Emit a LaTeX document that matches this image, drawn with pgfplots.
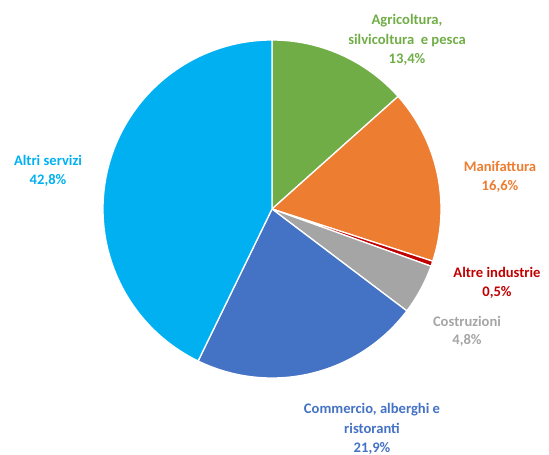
\documentclass[border=0pt]{standalone}
\usepackage{fontspec}
\setmainfont{Carlito}
\usepackage{pgfplots}
\pgfplotsset{compat=1.18}

\definecolor{cAgr}{HTML}{70AD47}
\definecolor{cMan}{HTML}{ED7D31}
\definecolor{cAlt}{HTML}{C00000}
\definecolor{cCos}{HTML}{A5A5A5}
\definecolor{cCom}{HTML}{4472C4}
\definecolor{cSer}{HTML}{00B0F0}

\tikzset{lbl/.style={align=center, inner sep=0pt,
    font=\bfseries\fontsize{14.6}{19.3}\selectfont}}

% pie centre and radius in axis units
\def\cx{272}\def\cy{246}\def\rr{169}

% \slice{cumulative share before}{share}{colour}
\newcommand\slice[3]{%
  \pgfmathsetmacro\angA{90-3.6*#1}%
  \pgfmathsetmacro\angB{90-3.6*(#1+#2)}%
  \edef\doslice{\noexpand\addplot[fill=#3, draw=white, line width=1.3pt,
      domain=\angB:\angA, samples=90, line join=round]
    ({\cx+\rr*cos(x)},{\cy+\rr*sin(x)}) -- (axis cs:\cx,\cy) -- cycle;}%
  \doslice
}

\begin{document}
\begin{tikzpicture}
\begin{axis}[
  width=549pt, height=455pt, scale only axis,
  xmin=0, xmax=549, ymin=0, ymax=455,
  hide axis, clip=false,
]
\path (axis cs:0,0) rectangle (axis cs:549,455);

\slice{0}{13.4}{cAgr}
\slice{13.4}{16.6}{cMan}
\slice{30.0}{0.5}{cAlt}
\slice{30.5}{4.8}{cCos}
\slice{35.3}{21.9}{cCom}
\slice{57.2}{42.8}{cSer}

\node[lbl, text=cAgr] at (axis cs:407,415) {Agricoltura,\\silvicoltura\ \ e pesca\\13,4\%};
\node[lbl, text=cMan] at (axis cs:500,278) {Manifattura\\16,6\%};
\node[lbl, text=cAlt] at (axis cs:497,172) {Altre industrie\\0,5\%};
\node[lbl, text=cCos, font=\bfseries\fontsize{14.6}{18}\selectfont] at (axis cs:467,124) {Costruzioni\\4,8\%};
\node[lbl, text=cCom] at (axis cs:372,26) {Commercio, alberghi e\\ristoranti\\21,9\%};
\node[lbl, text=cSer] at (axis cs:48,284) {Altri servizi\\42,8\%};
\end{axis}
\end{tikzpicture}
\end{document}
